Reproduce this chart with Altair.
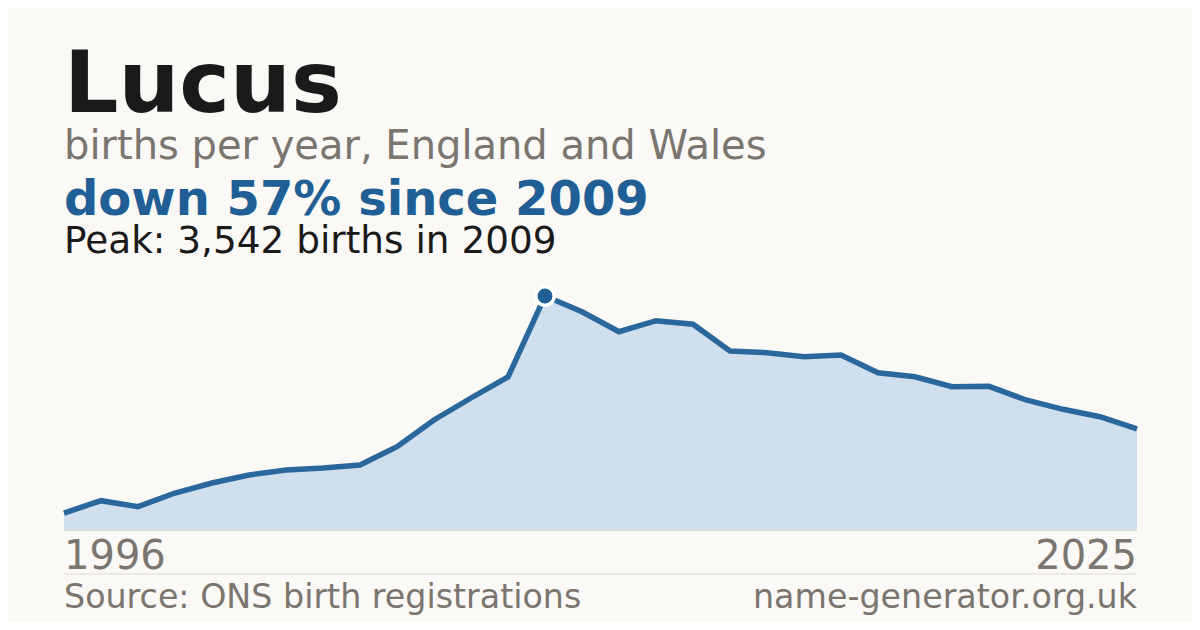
import altair as alt
import pandas as pd

years = list(range(1996, 2026))
births = [257, 444, 353, 560, 711, 833, 908, 938, 984, 1261,
          1665, 1998, 2316, 3542, 3304, 3002, 3168, 3114, 2710, 2684,
          2623, 2649, 2381, 2320, 2169, 2175, 1968, 1827, 1715, 1530]

name_title = "Lucus"
subtitle = "births per year, England and Wales"
headline = "down 57% since 2009"
peak_text = "Peak: 3,542 births in 2009"
source_text = "Source: ONS birth registrations"
site_text = "name-generator.org.uk"
peak_year = 2009
peak_value = 3542

BG = "#faf9f5"
BLUE = "#1f5f96"
GRAY = "#7a756e"
DARK = "#1a1a1a"
FONT = "DejaVu Sans"
W, H = 1073, 234

df = pd.DataFrame({"year": years, "births": births})
peak_df = pd.DataFrame({"year": [peak_year], "births": [peak_value]})
first_df = pd.DataFrame({"year": [years[0]], "label": [str(years[0])]})
last_df = pd.DataFrame({"year": [years[-1]], "label": [str(years[-1])]})

xs = alt.X("year:Q", scale=alt.Scale(domain=[years[0], years[-1]], nice=False, zero=False), axis=None)
ys = alt.Y("births:Q", scale=alt.Scale(domain=[0, peak_value], nice=False), axis=None)

area = alt.Chart(df).mark_area(color="#cfdfee", opacity=1).encode(x=xs, y=ys)
line = alt.Chart(df).mark_line(color="#2a679d", strokeWidth=5.5, strokeJoin="miter").encode(x=xs, y=ys)
base_rule = alt.Chart(df).mark_rule(color="#d6dbe0", strokeWidth=1).encode(
    x=alt.value(0), x2=alt.value(W), y=alt.value(H))
point = alt.Chart(peak_df).mark_circle(size=340, color=BLUE, stroke="white",
                                       strokeWidth=3.5, opacity=1).encode(x=xs, y=ys)


def txt(s, y, size, color, bold=False, x=0, align="left"):
    return alt.Chart(pd.DataFrame({"t": [s]})).mark_text(
        font=FONT, fontSize=size, fontWeight="bold" if bold else "normal",
        color=color, align=align, baseline="alphabetic").encode(
        x=alt.value(x), y=alt.value(y), text="t:N")


t1 = txt(name_title, -184, 85.5, DARK, bold=True)
t2 = txt(subtitle, -137, 40, GRAY)
t3 = txt(headline, -81, 48, BLUE, bold=True)
t4 = txt(peak_text, -43, 37.4, DARK)

lab1 = alt.Chart(first_df).mark_text(font=FONT, fontSize=40, color=GRAY, align="left",
                                      baseline="alphabetic").encode(x=xs, y=alt.value(273), text="label:N")
lab2 = alt.Chart(last_df).mark_text(font=FONT, fontSize=40, color=GRAY, align="right",
                                     baseline="alphabetic").encode(x=xs, y=alt.value(273), text="label:N")

sep = alt.Chart(first_df).mark_rule(color="#dedbd5", strokeWidth=1).encode(
    x=alt.value(0), x2=alt.value(W), y=alt.value(278))

f1 = txt(source_text, 312, 33.3, GRAY)
f2 = txt(site_text, 312, 33.3, GRAY, x=W, align="right")

chart = alt.layer(area, line, base_rule, point, t1, t2, t3, t4, lab1, lab2, sep, f1, f2).properties(
    width=W, height=H, background=BG,
    padding={"left": 56, "top": 288, "right": 55, "bottom": 92},
    autosize=alt.AutoSizeParams(type="none"),
).configure_view(stroke=None)

chart.save("out.html", embed_options={"renderer": "svg", "actions": False})
